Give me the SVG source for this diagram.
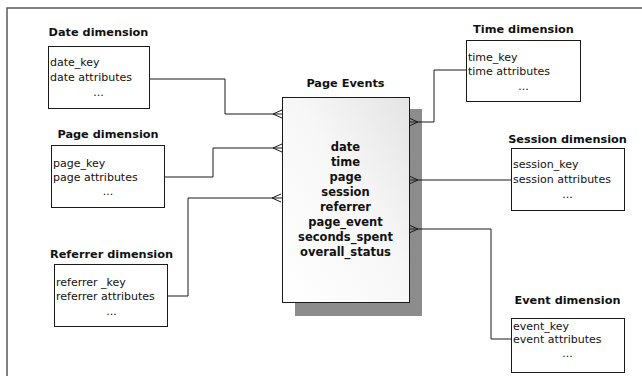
<svg xmlns="http://www.w3.org/2000/svg" width="642" height="376" viewBox="0 0 642 376">
  <defs>
    <linearGradient id="factFill" x1="0" y1="1" x2="1" y2="0">
      <stop offset="0" stop-color="#ffffff"/>
      <stop offset="0.55" stop-color="#f7f7f7"/>
      <stop offset="1" stop-color="#e4e4e4"/>
    </linearGradient>
    <style>
      .frame { fill: none; stroke: #5a5a5a; stroke-width: 1.5; }
      .box { fill: #ffffff; stroke: #1a1a1a; stroke-width: 1; }
      .fact { fill: url(#factFill); stroke: #1a1a1a; stroke-width: 1; }
      .shadow { fill: #8c8c8c; }
      .title { font-family: "DejaVu Sans", Verdana, sans-serif; font-size: 11.3px; font-weight: bold; fill: #111; text-anchor: middle; }
      .attr { font-family: "DejaVu Sans", Verdana, sans-serif; font-size: 11px; fill: #111; }
      .dots { font-family: "DejaVu Sans", Verdana, sans-serif; font-size: 11px; fill: #111; text-anchor: middle; }
      .field { font-family: "DejaVu Sans", Verdana, sans-serif; font-size: 11.5px; font-weight: bold; fill: #111; text-anchor: middle; }
      .link { fill: none; stroke: #1a1a1a; stroke-width: 1; }
    </style>
  </defs>

  <rect width="642" height="376" fill="#ffffff"/>
  <!-- page frame -->
  <path class="frame" d="M642,8 H7 V376"/>

  <!-- fact table -->
  <g id="page-events">
    <text class="title" x="345.5" y="87">Page Events</text>
    <rect class="shadow" x="295" y="109" width="127" height="207"/>
    <rect class="fact" x="282.5" y="97.5" width="127" height="205"/>
    <text class="field" x="345.5" y="151">date</text>
    <text class="field" x="345.5" y="166">time</text>
    <text class="field" x="345.5" y="181">page</text>
    <text class="field" x="345.5" y="196">session</text>
    <text class="field" x="345.5" y="211">referrer</text>
    <text class="field" x="345.5" y="226">page_event</text>
    <text class="field" x="345.5" y="241">seconds_spent</text>
    <text class="field" x="345.5" y="256">overall_status</text>
  </g>

  <!-- connectors with crow's-foot ends at the fact table -->
  <g id="connectors">
    <path class="link" d="M149,79 H225 V114 H282"/>
    <path class="link" d="M282,110 L273,114 L282,118"/>

    <path class="link" d="M165,177 H213 V148 H282"/>
    <path class="link" d="M282,144 L273,148 L282,152"/>

    <path class="link" d="M168,296 H188 V198 H282"/>
    <path class="link" d="M281,194 L272,198 L281,202"/>

    <path class="link" d="M466,70 H434 V122 H409"/>
    <path class="link" d="M409,118 L418,122 L409,126"/>

    <path class="link" d="M409,180 H511"/>
    <path class="link" d="M409,176 L418,180 L409,184"/>

    <path class="link" d="M409,229 H491 V339 H511"/>
    <path class="link" d="M409,225 L418,229 L409,233"/>
  </g>

  <!-- dimension tables -->
  <g id="date-dimension">
    <text class="title" x="98.5" y="36">Date dimension</text>
    <rect class="box" x="48.5" y="46.5" width="101" height="62"/>
    <text class="attr" x="50" y="66">date_key</text>
    <text class="attr" x="50" y="81">date attributes</text>
    <text class="dots" x="98.5" y="96">...</text>
  </g>

  <g id="page-dimension">
    <text class="title" x="108" y="138">Page dimension</text>
    <rect class="box" x="51.5" y="145.5" width="113" height="62"/>
    <text class="attr" x="53" y="167">page_key</text>
    <text class="attr" x="53" y="181">page attributes</text>
    <text class="dots" x="108" y="195">...</text>
  </g>

  <g id="referrer-dimension">
    <text class="title" x="111.5" y="258">Referrer dimension</text>
    <rect class="box" x="54.5" y="264.5" width="113" height="62"/>
    <text class="attr" x="56" y="286">referrer _key</text>
    <text class="attr" x="56" y="300">referrer attributes</text>
    <text class="dots" x="111.5" y="315">...</text>
  </g>

  <g id="time-dimension">
    <text class="title" x="523.5" y="33">Time dimension</text>
    <rect class="box" x="466.5" y="40.5" width="114" height="61"/>
    <text class="attr" x="468" y="61">time_key</text>
    <text class="attr" x="468" y="75">time attributes</text>
    <text class="dots" x="523.5" y="90">...</text>
  </g>

  <g id="session-dimension">
    <text class="title" x="567.5" y="143">Session dimension</text>
    <rect class="box" x="511.5" y="148.5" width="113" height="62"/>
    <text class="attr" x="513" y="168">session_key</text>
    <text class="attr" x="513" y="183">session attributes</text>
    <text class="dots" x="567.5" y="198">...</text>
  </g>

  <g id="event-dimension">
    <text class="title" x="567.5" y="304">Event dimension</text>
    <rect class="box" x="511.5" y="318.5" width="113" height="54"/>
    <text class="attr" x="513" y="330">event_key</text>
    <text class="attr" x="513" y="343">event attributes</text>
    <text class="dots" x="567.5" y="357">...</text>
  </g>
</svg>
